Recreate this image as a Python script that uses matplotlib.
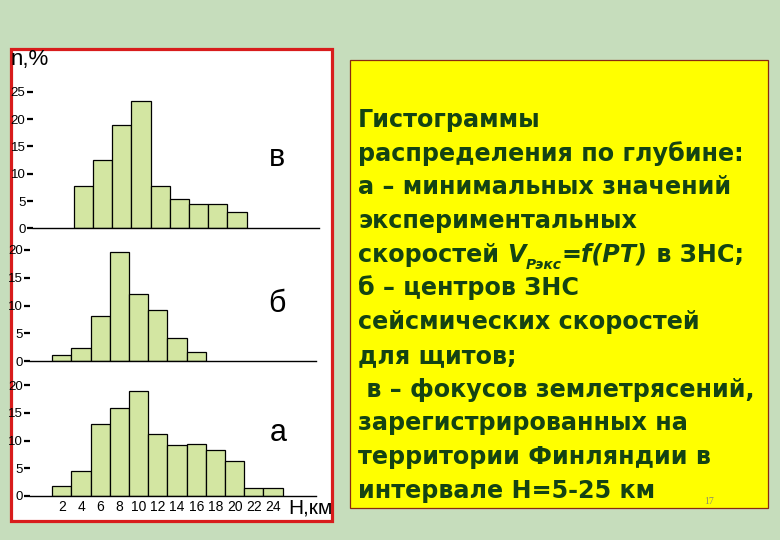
import matplotlib.pyplot as plt
from matplotlib.patches import Rectangle

# histogram data (bin centres in km, share in %)
centers_a = [2, 4, 6, 8, 10, 12, 14, 16, 18, 20, 22, 24]
share_a = [1.8, 4.5, 12.9, 15.9, 19.0, 11.1, 9.2, 9.3, 8.3, 6.3, 1.4, 1.4]
centers_b = [2, 4, 6, 8, 10, 12, 14, 16]
share_b = [1.0, 2.3, 8.1, 19.6, 12.1, 9.1, 4.1, 1.7]
centers_v = [4, 6, 8, 10, 12, 14, 16, 18, 20]
share_v = [7.8, 12.5, 18.9, 23.4, 7.75, 5.4, 4.4, 4.4, 2.9]

yticks_a = [0, 5, 10, 15, 20]
yticks_b = [0, 5, 10, 15, 20]
yticks_v = [0, 5, 10, 15, 20, 25]
xtick_labels = [str(c) for c in centers_a]

caption = [
    "Гистограммы",
    "распределения по глубине:",
    "а – минимальных значений",
    "экспериментальных",
    None,  # line with formula, drawn separately
    "б – центров ЗНС",
    "сейсмических скоростей",
    "для щитов;",
    " в – фокусов землетрясений,",
    "зарегистрированных на",
    "территории Финляндии в",
    "интервале Н=5-25 км",
]

W, H = 780, 540
BG = "#c6ddbc"
BAR = "#d3e6a2"
TXT = "#144313"
FONT = "Liberation Sans"
CAP_FONT = "DejaVu Sans"

plt.rcParams['font.family'] = [FONT, 'DejaVu Sans']

fig = plt.figure(figsize=(W / 100, H / 100), dpi=100, facecolor=BG)

# overlay in pixel coordinates for boxes and caption
bg = fig.add_axes([0, 0, 1, 1], zorder=-1)
bg.set_xlim(0, W)
bg.set_ylim(H, 0)
bg.axis('off')
bg.add_patch(Rectangle((10.5, 48.5), 321, 472, facecolor='white',
                       edgecolor='#d81c1c', linewidth=2.3))
bg.add_patch(Rectangle((350, 59.5), 418, 448.5, facecolor='#ffff00',
                       edgecolor='#8a2a10', linewidth=0.9))

X0, X1, PPK = -1.3, 28.5, 9.6


def add_panel(left_px, base_px, scale, ymax, centers, share, yticks, bottom=False):
    width_px = (X1 - X0) * PPK
    ax = fig.add_axes([left_px / W, (H - base_px) / H, width_px / W, ymax * scale / H])
    ax.patch.set_visible(False)
    ax.bar(centers, share, width=2, color=BAR, edgecolor='black', linewidth=0.9)
    ax.set_xlim(X0, X1)
    ax.set_ylim(0, ymax)
    for s in ['top', 'right', 'left']:
        ax.spines[s].set_visible(False)
    ax.spines['bottom'].set_linewidth(1.0)
    ax.set_yticks(yticks)
    ax.tick_params(axis='y', length=4, width=1.6, pad=1, labelsize=9.5)
    if bottom:
        ax.set_xticks(centers_a, xtick_labels)
        ax.tick_params(axis='x', length=0, pad=3, labelsize=10)
    else:
        ax.set_xticks([])
    return ax


add_panel(32.5, 228.3, 5.46, 27, centers_v, share_v, yticks_v)
add_panel(30.2, 361, 5.55, 22, centers_b, share_b, yticks_b)
add_panel(30.2, 496, 5.55, 22, centers_a, share_a, yticks_a, bottom=True)

# panel letters and axis titles
for letter, (lx, ly) in zip(['в', 'б', 'а'], [(277, 158), (277, 304), (278, 433)]):
    bg.text(lx, ly, letter, fontsize=22, ha='center', va='center', color='black')
bg.text(11, 59, "n,%", fontsize=16, ha='left', va='center', color='black')
bg.text(288, 508, "Н,км", fontsize=15, ha='left', va='center', color='black')

# caption in the yellow box
kw = dict(fontsize=17.2, fontweight='bold', color=TXT, family=CAP_FONT)
x_txt, y_first, pitch = 358, 127, 33.7
for i, line in enumerate(caption):
    if line is None:
        continue
    bg.text(x_txt, y_first + i * pitch, line, ha='left', va='baseline', **kw)

y5 = y_first + 4 * pitch
t1 = bg.text(x_txt, y5, "скоростей ", ha='left', va='baseline', **kw)
t2 = bg.annotate("V", xy=(1, 0), xycoords=t1, ha='left', va='bottom',
                 fontstyle='italic', **kw)
t3 = bg.annotate("Рэкс", xy=(1, 0), xycoords=t2, xytext=(0, -4),
                 textcoords='offset points', ha='left', va='bottom',
                 fontsize=10, fontweight='bold', fontstyle='italic', color=TXT,
                 family=CAP_FONT)
t4 = bg.annotate("=f(PT)", xy=(1, 0), xycoords=(t3, t2), ha='left', va='bottom',
                 fontstyle='italic', **kw)
bg.annotate(" в ЗНС;", xy=(1, 0), xycoords=t4, ha='left', va='bottom', **kw)

bg.text(709, 502, "17", fontsize=7, color='#8c8c6a', family='Liberation Serif',
        ha='center', va='center')

fig.savefig("out.png", dpi=100, facecolor=BG)
